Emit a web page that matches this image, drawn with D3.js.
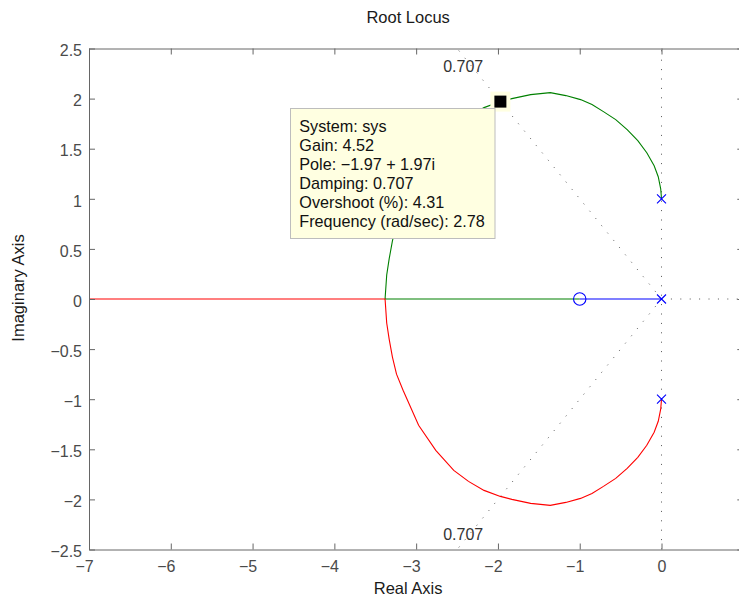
<!DOCTYPE html>
<html>
<head>
<meta charset="utf-8">
<script src="https://cdn.jsdelivr.net/npm/d3@7"></script>
<style>
  body { margin: 0; background: #fff; }
  text { font-family: "Liberation Sans", Arial, sans-serif; }
</style>
</head>
<body>
<div id="chart"></div>
<script>
// axis ticks
var xTicks = [-7, -6, -5, -4, -3, -2, -1, 0];
var yTicks = [-2.5, -2, -1.5, -1, -0.5, 0, 0.5, 1, 1.5, 2, 2.5];

// upper complex branch (the lower one is its conjugate)
var branchRe = [0, -0.01, -0.04, -0.09, -0.18, -0.29, -0.42, -0.56, -0.71, -0.85, -0.99, -1.17, -1.36,
  -1.60, -1.83, -1.97, -2.17, -2.36, -2.54, -2.76, -2.97, -3.16, -3.24, -3.29, -3.33, -3.36, -3.38];
var branchIm = [1.0, 1.1, 1.22, 1.33, 1.46, 1.58, 1.69, 1.79, 1.87, 1.94, 1.99, 2.03, 2.06,
  2.04, 2.0, 1.97, 1.91, 1.82, 1.71, 1.51, 1.26, 0.91, 0.75, 0.58, 0.40, 0.24, 0];

var poleRe = [0, 0, 0];
var poleIm = [1, 0, -1];
var zeroRe = [-1];
var zeroIm = [0];

var damping = 0.707;
var tipPole = [-1.97, 1.97];
var tipLines = ["System: sys", "Gain: 4.52", "Pole: \u22121.97 + 1.97i", "Damping: 0.707",
  "Overshoot (%): 4.31", "Frequency (rad/sec): 2.78"];

var width = 739, height = 600;

var svg = d3.select("#chart").append("svg")
  .attr("width", width)
  .attr("height", height);

var x = d3.scaleLinear().domain([-7, 1]).range([89, 743.3]);
var y = d3.scaleLinear().domain([-2.5, 2.5]).range([549.5, 48.5]);

svg.append("clipPath").attr("id", "plot")
  .append("rect")
  .attr("x", x(-7)).attr("y", y(2.5))
  .attr("width", x(1) - x(-7)).attr("height", y(-2.5) - y(2.5));

var plot = svg.append("g").attr("clip-path", "url(#plot)");

// damping grid (dotted)
function dotted(pts) {
  plot.append("path")
    .attr("d", d3.line().x(function(d) { return x(d[0]); }).y(function(d) { return y(d[1]); })(pts))
    .attr("fill", "none")
    .attr("stroke", "#555")
    .attr("stroke-width", 1)
    .attr("stroke-dasharray", "1,8.4");
}
var r = 4;
var zeta = Math.sqrt(1 - damping * damping) / damping;
dotted([[0, 0], [-r, r * zeta]]);
dotted([[0, 0], [-r, -r * zeta]]);
dotted([[0, -2.5], [0, 2.5]]);
dotted([[0, 0], [1, 0]]);

plot.append("text").attr("x", x(-2.4) - 2).attr("y", 71.7)
  .attr("text-anchor", "middle").attr("font-size", "16px").attr("fill", "#333")
  .text(String(damping));
plot.append("text").attr("x", x(-2.4) - 2).attr("y", 540)
  .attr("text-anchor", "middle").attr("font-size", "16px").attr("fill", "#333")
  .text(String(damping));

// locus branches
var line = d3.line().x(function(d) { return x(d[0]); }).y(function(d) { return y(d[1]); });

var upper = branchRe.map(function(v, i) { return [v, branchIm[i]]; });
var lower = branchRe.map(function(v, i) { return [v, -branchIm[i]]; });

plot.append("path")
  .attr("d", line([[poleRe[1], poleIm[1]], [zeroRe[0], zeroIm[0]]]))
  .attr("fill", "none").attr("stroke", "#0000ff").attr("stroke-width", 1.1);

plot.append("path")
  .attr("d", line(upper.concat([[zeroRe[0], 0]])))
  .attr("fill", "none").attr("stroke", "#008000").attr("stroke-width", 1.1);

plot.append("path")
  .attr("d", line(lower.concat([[x.domain()[0] - 1, 0]])))
  .attr("fill", "none").attr("stroke", "#ff0000").attr("stroke-width", 1.1);

// poles and zeros
poleRe.forEach(function(v, i) {
  var px = x(v), py = y(poleIm[i]), s = 4.5;
  plot.append("path")
    .attr("d", "M" + (px - s) + "," + (py - s) + "L" + (px + s) + "," + (py + s) +
      "M" + (px - s) + "," + (py + s) + "L" + (px + s) + "," + (py - s))
    .attr("stroke", "#0000ff").attr("stroke-width", 1.1);
});
zeroRe.forEach(function(v, i) {
  plot.append("circle")
    .attr("cx", x(v)).attr("cy", y(zeroIm[i])).attr("r", 6.2)
    .attr("fill", "none").attr("stroke", "#0000ff").attr("stroke-width", 1.1);
});

// axes
var ax = svg.append("g").attr("class", "axes");
var fmt = d3.format("~g");

var bottom = ax.append("g").attr("transform", "translate(0," + y(-2.5) + ")")
  .call(d3.axisBottom(x).tickValues(xTicks).tickFormat(fmt).tickSize(-6).tickSizeOuter(0).tickPadding(11));
var left = ax.append("g").attr("transform", "translate(" + x(-7) + ",0)")
  .call(d3.axisLeft(y).tickValues(yTicks).tickFormat(fmt).tickSize(-6).tickSizeOuter(0).tickPadding(7));
ax.append("g").attr("transform", "translate(0," + y(2.5) + ")")
  .call(d3.axisTop(x).tickValues(xTicks.concat([1])).tickFormat("").tickSize(-6).tickSizeOuter(0));
ax.append("g").attr("transform", "translate(" + x(1) + ",0)")
  .call(d3.axisRight(y).tickValues(yTicks).tickFormat("").tickSize(-6).tickSizeOuter(0));

ax.selectAll(".domain, .tick line").attr("stroke", "#666");
ax.selectAll(".tick text").attr("font-size", "16px").attr("fill", "#4a4a4a")
  .attr("font-family", "'Liberation Sans', Arial, sans-serif");
bottom.selectAll(".tick text").attr("dx", function(d) { return d < 0 ? -5 : 0; });
left.selectAll(".tick text").attr("dy", "0.45em");

// titles
var cx = (x(-7) + x(1)) / 2 - 8;
svg.append("text").attr("x", cx).attr("y", 22.7).attr("text-anchor", "middle")
  .attr("font-size", "16.5px").attr("fill", "#1a1a1a").text("Root Locus");
svg.append("text").attr("x", cx).attr("y", 594).attr("text-anchor", "middle")
  .attr("font-size", "16.5px").attr("fill", "#1a1a1a").text("Real Axis");
svg.append("text").attr("transform", "translate(24,288) rotate(-90)").attr("text-anchor", "middle")
  .attr("font-size", "16.5px").attr("fill", "#1a1a1a").text("Imaginary Axis");

// data tip
var tx = x(tipPole[0]), ty = y(tipPole[1]);
svg.append("rect").attr("x", tx - 10).attr("y", ty - 10).attr("width", 20).attr("height", 20)
  .attr("fill", "#ffffe1");
svg.append("rect").attr("x", tx - 6).attr("y", ty - 6).attr("width", 12).attr("height", 12)
  .attr("fill", "#000");

var box = svg.append("g").attr("transform", "translate(290.5,108.5)");
box.append("rect").attr("width", 204.5).attr("height", 130)
  .attr("fill", "#ffffe1").attr("stroke", "#bdbdbd").attr("stroke-width", 1);
box.selectAll("text.tip").data(tipLines).enter().append("text")
  .attr("class", "tip")
  .attr("x", 8.8)
  .attr("y", function(d, i) { return 23.8 + i * 18.9; })
  .attr("font-size", "16.2px")
  .attr("fill", "#111")
  .text(function(d) { return d; });
</script>
</body>
</html>
